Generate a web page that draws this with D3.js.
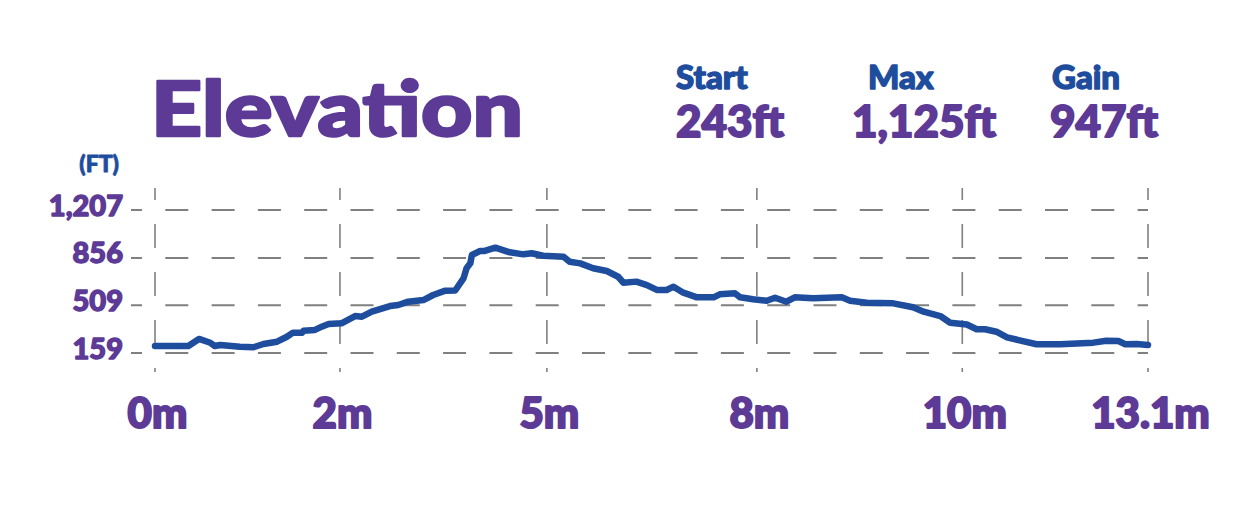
<!DOCTYPE html>
<html>
<head>
<meta charset="utf-8">
<script src="https://cdn.jsdelivr.net/npm/d3@7"></script>
<style>
  html, body { margin: 0; padding: 0; background: #ffffff; }
  svg { display: block; }
  .heavy { paint-order: stroke; stroke-linejoin: round; }
</style>
</head>
<body>
<svg id="chart" width="1250" height="521"></svg>
<script>
// ---- data ----
const miles = [0, 0.44, 0.58, 0.73, 0.79, 0.86, 1.12, 1.30, 1.43, 1.61, 1.74, 1.82, 1.94, 1.96, 2.11, 2.20, 2.29, 2.46,
  2.64, 2.73, 2.86, 3.10, 3.21, 3.34, 3.54, 3.67, 3.83, 3.96, 4.07, 4.11, 4.16, 4.18, 4.29, 4.35, 4.49, 4.68, 4.86,
  4.97, 5.12, 5.39, 5.47, 5.61, 5.78, 5.96, 6.11, 6.18, 6.35, 6.49, 6.62, 6.75, 6.84, 6.97, 7.15, 7.37, 7.45, 7.65,
  7.72, 7.89, 8.07, 8.18, 8.33, 8.44, 8.68, 9.06, 9.17, 9.39, 9.74, 10.00, 10.14, 10.36, 10.49, 10.71, 10.84, 10.95,
  11.10, 11.24, 11.39, 11.63, 11.94, 12.38, 12.55, 12.71, 12.80, 12.95, 13.10];
const feet = [210, 210, 262, 234, 210, 218, 205, 201, 225, 242, 278, 308, 308, 322, 328, 352, 372, 377,
  430, 425, 462, 503, 511, 535, 547, 584, 616, 617, 706, 780, 816, 877, 907, 907, 931, 897, 882,
  890, 872, 865, 828, 816, 780, 760, 718, 674, 682, 657, 621, 621, 645, 601, 567, 567, 589, 597,
  567, 553, 542, 564, 535, 567, 560, 567, 542, 528, 523, 494, 462, 430, 381, 368, 333, 333,
  315, 274, 254, 223, 223, 235, 249, 247, 223, 225, 218];
const yTicks = [159, 509, 856, 1207];
const xTickMiles = [0, 2.44, 5.17, 7.94, 10.65, 13.1];
const xTickLabels = ["0m", "2m", "5m", "8m", "10m", "13.1m"];
const statLabels = ["Start", "Max", "Gain"];
const statValues = ["243ft", "1,125ft", "947ft"];
const titleText = "Elevation";
const unitText = "(FT)";

// ---- layout ----
const PURPLE = "#5c3a96";
const BLUE = "#1e4d9e";
const GRID = "#808080";
const FONT = "Lato, 'Open Sans', 'DejaVu Sans', sans-serif";
const statLabelX = [676, 868, 1052];
const statValueX = [676, 852, 1050];

const svg = d3.select("#chart");
const x = d3.scaleLinear().domain([0, 13.1]).range([155, 1148]);
const y = d3.scaleLinear().domain([159, 1207]).range([353, 210]);

function heavy(sel, color, sw) {
  return sel.attr("class", "heavy").attr("fill", color).attr("stroke", color)
    .attr("stroke-width", sw).attr("font-family", FONT).attr("font-weight", 900);
}

// grid: horizontal
const gx0 = 131, gx1 = 1148;
svg.append("g").selectAll("line").data(yTicks).join("line")
  .attr("x1", gx0).attr("x2", gx1)
  .attr("y1", d => y(d)).attr("y2", d => y(d))
  .attr("stroke", GRID).attr("stroke-width", 2)
  .attr("stroke-dasharray", "23,23.3").attr("stroke-dashoffset", 12);

// grid: vertical
const gy0 = 188, gy1 = 372;
svg.append("g").selectAll("line").data(xTickMiles).join("line")
  .attr("x1", d => x(d)).attr("x2", d => x(d))
  .attr("y1", gy0).attr("y2", gy1)
  .attr("stroke", GRID).attr("stroke-width", 1.6)
  .attr("stroke-dasharray", "24,24").attr("stroke-dashoffset", 12);

// y axis labels
const yAxis = d3.axisLeft(y).tickValues(yTicks).tickFormat(d3.format(",")).tickSize(0).tickPadding(0);
const yg = svg.append("g").attr("transform", "translate(123,0)").call(yAxis);
yg.select(".domain").remove();
heavy(yg.selectAll("text"), PURPLE, 1.4)
  .attr("dy", null).attr("y", 5)
  .attr("font-size", 29).attr("text-anchor", "end");

// x axis labels
const xAxis = d3.axisBottom(x).tickValues(xTickMiles).tickFormat((d, i) => xTickLabels[i]).tickSize(0).tickPadding(0);
const xg = svg.append("g").attr("transform", "translate(2,428)").call(xAxis);
xg.select(".domain").remove();
heavy(xg.selectAll("text"), PURPLE, 2)
  .attr("dy", null).attr("y", 0)
  .attr("font-size", 42).attr("text-anchor", "middle");

// unit label
heavy(svg.append("text"), BLUE, 0.8)
  .attr("x", 119).attr("y", 172).attr("text-anchor", "end")
  .attr("font-size", 23)
  .text(unitText);

// title
heavy(svg.append("text"), PURPLE, 2.5)
  .attr("x", 151).attr("y", 136)
  .attr("font-size", 76)
  .attr("textLength", 372).attr("lengthAdjust", "spacingAndGlyphs")
  .text(titleText);

// stats
heavy(svg.append("g").selectAll("text").data(statLabels).join("text"), BLUE, 1.4)
  .attr("x", (d, i) => statLabelX[i]).attr("y", 89)
  .attr("font-size", 33)
  .text(d => d);
heavy(svg.append("g").selectAll("text").data(statValues).join("text"), PURPLE, 1.8)
  .attr("x", (d, i) => statValueX[i]).attr("y", 137)
  .attr("font-size", 44)
  .text(d => d);

// elevation line
const pts = miles.map((m, i) => [m, feet[i]]);
const line = d3.line().x(d => x(d[0])).y(d => y(d[1])).curve(d3.curveLinear);
svg.append("path").datum(pts)
  .attr("d", line)
  .attr("fill", "none").attr("stroke", BLUE).attr("stroke-width", 6.5)
  .attr("stroke-linejoin", "round").attr("stroke-linecap", "round");
</script>
</body>
</html>
